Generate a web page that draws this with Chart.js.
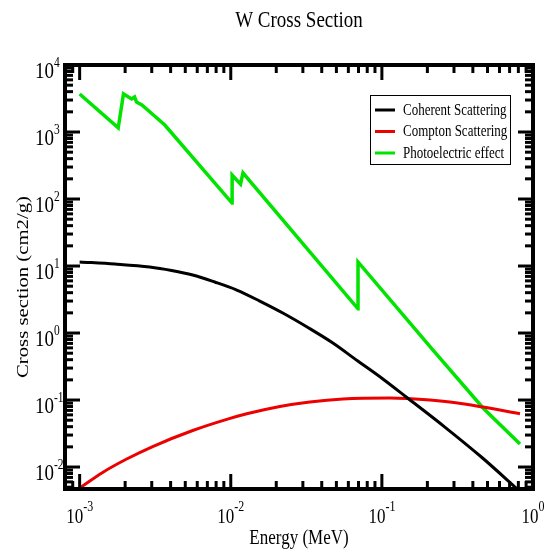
<!DOCTYPE html>
<html>
<head>
<meta charset="utf-8">
<script src="https://cdn.jsdelivr.net/npm/chart.js@4.4.1/dist/chart.umd.min.js"></script>
<style>
html,body{margin:0;padding:0;background:#fff;}
#wrap{width:547px;height:553px;position:relative;}
</style>
</head>
<body>
<div id="wrap"><canvas id="c" width="547" height="553"></canvas></div>
<script>
// ---- texts ----
const chartTitle = 'W Cross Section';
const xAxisTitle = 'Energy (MeV)';
const yAxisTitle = 'Cross section (cm2/g)';
const seriesNames = ['Coherent Scattering', 'Compton Scattering', 'Photoelectric effect'];
const seriesColors = ['#000000', '#ec0000', '#00e400'];

// ---- data (energy in MeV, cross section in cm2/g) ----
const coherentEnergy = [0.001, 0.00171, 0.00291, 0.00406, 0.0056, 0.00783, 0.01096, 0.01556, 0.0221, 0.0324, 0.0474, 0.0693, 0.1015, 0.1464, 0.261, 0.4595, 0.82];
const coherentValues = [11.5, 10.7, 9.66, 8.57, 7.34, 5.77, 4.38, 3.0, 1.99, 1.21, 0.710, 0.382, 0.206, 0.109, 0.0395, 0.01387, 0.00431];

const comptonEnergy = [0.001, 0.00142, 0.002048, 0.003043, 0.0056, 0.00941, 0.01276, 0.02112, 0.03336, 0.0552, 0.113, 0.1464, 0.282, 0.4666, 0.82];
const comptonValues = [0.00486, 0.00831, 0.01316, 0.02023, 0.0351, 0.0515, 0.0624, 0.0802, 0.0937, 0.1038, 0.1072, 0.1053, 0.0933, 0.0786, 0.0624];

const photoEnergy = [0.001, 0.0018, 0.00195, 0.00221, 0.00231, 0.00238, 0.00258, 0.00282, 0.00366, 0.0102, 0.01021, 0.0116, 0.0120, 0.0121, 0.01215, 0.0695, 0.06952, 0.218, 0.467, 0.82];
const photoValues = [3690, 1150, 3700, 3110, 3330, 2800, 2530, 2130, 1270, 87, 228, 167, 236, 231, 240, 2.3, 11.5, 0.557, 0.076, 0.022];

// ---- axes ----
const xTickExponents = [-3, -2, -1, 0];
const yTickExponents = [-2, -1, 0, 1, 2, 3, 4];
const xRange = [8e-4, 1.0];
const yRange = [4.7e-3, 1e4];

const SERIF = '"Liberation Serif", "DejaVu Serif", serif';
const STRETCH = 1.22;

function pts(xs, ys) { return xs.map((x, i) => ({ x: x, y: ys[i] })); }

function sText(ctx, txt, x, y, font, align) {
  ctx.save();
  ctx.font = font;
  ctx.textAlign = align || 'left';
  ctx.textBaseline = 'alphabetic';
  ctx.translate(x, y);
  ctx.scale(1, STRETCH);
  ctx.fillText(txt, 0, 0);
  ctx.restore();
}

function seg(ctx, x1, y1, x2, y2) {
  ctx.beginPath(); ctx.moveTo(x1, y1); ctx.lineTo(x2, y2); ctx.stroke();
}

const decor = {
  id: 'decor',
  afterDraw(chart) {
    const ctx = chart.ctx;
    const xs = chart.scales.x, ys = chart.scales.y;
    const a = chart.chartArea;
    const MAJOR = 15, MINOR = 8;
    ctx.save();
    ctx.fillStyle = '#000';
    ctx.strokeStyle = '#000';
    ctx.lineCap = 'butt';
    ctx.lineWidth = 3;
    // x ticks (bottom and top, inward)
    for (let e = -4; e <= 0; e++) {
      for (let m = 1; m <= 9; m++) {
        const v = m * Math.pow(10, e);
        if (v < xRange[0] * 0.999 || v > xRange[1] * 1.001) continue;
        const px = xs.getPixelForValue(v);
        const len = m === 1 ? MAJOR : MINOR;
        seg(ctx, px, a.bottom, px, a.bottom - len);
        seg(ctx, px, a.top, px, a.top + len);
      }
    }
    // y ticks (left and right, inward)
    for (let e = -3; e <= 4; e++) {
      for (let m = 1; m <= 9; m++) {
        const v = m * Math.pow(10, e);
        if (v < yRange[0] * 0.999 || v > yRange[1] * 1.001) continue;
        const py = ys.getPixelForValue(v);
        const len = m === 1 ? MAJOR : MINOR;
        seg(ctx, a.left, py, a.left + len, py);
        seg(ctx, a.right, py, a.right - len, py);
      }
    }
    // frame
    ctx.lineWidth = 4;
    ctx.strokeRect(a.left, a.top, a.right - a.left, a.bottom - a.top);

    // x tick labels
    const xBaseFont = '17px ' + SERIF, xSupFont = '12px ' + SERIF;
    xTickExponents.forEach(ex => {
      const px = xs.getPixelForValue(Math.pow(10, ex));
      ctx.font = xBaseFont; const w1 = ctx.measureText('10').width;
      ctx.font = xSupFont; const w2 = ctx.measureText(String(ex)).width;
      const x0 = px - (w1 + w2) / 2;
      sText(ctx, '10', x0, a.bottom + 34, xBaseFont, 'left');
      sText(ctx, String(ex), x0 + w1, a.bottom + 22, xSupFont, 'left');
    });
    // y tick labels
    const yBaseFont = '19px ' + SERIF, ySupFont = '11.5px ' + SERIF;
    yTickExponents.forEach(ex => {
      const py = ys.getPixelForValue(Math.pow(10, ex));
      sText(ctx, '10', 54, py + 13, yBaseFont, 'right');
      sText(ctx, String(ex), 54, py + 2, ySupFont, 'left');
    });

    // title
    sText(ctx, chartTitle, (a.left + a.right) / 2, 27, '19px ' + SERIF, 'center');
    // x axis title
    sText(ctx, xAxisTitle, (a.left + a.right) / 2, 544, '17px ' + SERIF, 'center');
    // y axis title (rotated)
    ctx.save();
    ctx.font = '17px ' + SERIF;
    ctx.textAlign = 'center';
    ctx.textBaseline = 'alphabetic';
    ctx.translate(28, 287);
    ctx.scale(1, STRETCH);
    ctx.rotate(-Math.PI / 2);
    ctx.fillText(yAxisTitle, 0, 0);
    ctx.restore();

    // legend
    const lx = 370, ly = 95, lw = 140, lh = 69;
    ctx.fillStyle = '#fff';
    ctx.fillRect(lx, ly, lw, lh);
    ctx.lineWidth = 1;
    ctx.strokeStyle = '#000';
    ctx.strokeRect(lx + 0.5, ly + 0.5, lw, lh);
    const rows = [110, 131.5, 153];
    chart.data.datasets.forEach((ds, i) => {
      ctx.strokeStyle = ds.borderColor;
      ctx.lineWidth = 3;
      seg(ctx, 375, rows[i], 395, rows[i]);
      ctx.fillStyle = '#000';
      sText(ctx, ds.label, 403, rows[i] + 4.5, '13px ' + SERIF, 'left');
    });
    ctx.restore();
  }
};

const ds = (i, xs, ys, smooth, width) => ({
  label: seriesNames[i],
  data: pts(xs, ys),
  borderColor: seriesColors[i],
  backgroundColor: seriesColors[i],
  borderWidth: width,
  pointRadius: 0,
  tension: smooth ? 0.4 : 0,
  cubicInterpolationMode: smooth ? 'monotone' : 'default',
  fill: false
});

new Chart(document.getElementById('c'), {
  type: 'line',
  data: {
    datasets: [
      ds(0, coherentEnergy, coherentValues, true, 3),
      ds(1, comptonEnergy, comptonValues, true, 3),
      ds(2, photoEnergy, photoValues, false, 3.5)
    ]
  },
  options: {
    responsive: false,
    animation: false,
    devicePixelRatio: 1,
    layout: { padding: { left: 65, right: 14, top: 65, bottom: 64 } },
    plugins: { legend: { display: false }, title: { display: false }, tooltip: { enabled: false } },
    scales: {
      x: { type: 'logarithmic', min: xRange[0], max: xRange[1], display: false },
      y: { type: 'logarithmic', min: yRange[0], max: yRange[1], display: false }
    }
  },
  plugins: [decor]
});
</script>
</body>
</html>
